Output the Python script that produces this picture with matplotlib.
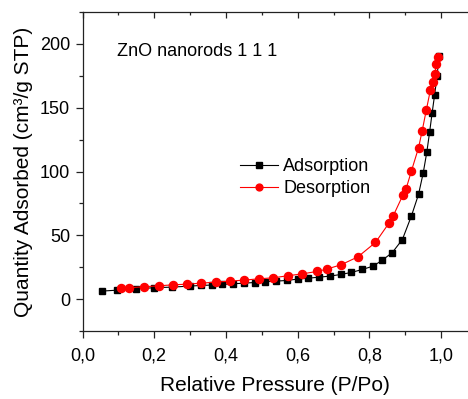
import matplotlib
matplotlib.use("Agg")
import matplotlib.pyplot as plt
from matplotlib.ticker import MultipleLocator

plt.rcParams['font.family'] = ['Liberation Sans', 'DejaVu Sans']

# adsorption branch (P/Po, cm3/g STP)
ads_p = [0.055, 0.097, 0.148, 0.200, 0.250, 0.300, 0.330, 0.360, 0.390, 0.420,
         0.450, 0.480, 0.510, 0.540, 0.570, 0.600, 0.630, 0.660, 0.690, 0.720,
         0.750, 0.780, 0.810, 0.836, 0.864, 0.892, 0.917, 0.937, 0.950, 0.960,
         0.968, 0.975, 0.982, 0.989, 0.994]
ads_q = [6.3, 7.0, 8.1, 8.9, 9.4, 10.2, 10.7, 11.0, 11.5, 12.0,
         12.5, 13.0, 13.6, 14.1, 14.6, 15.7, 16.4, 17.2, 18.0, 19.3,
         20.9, 23.2, 25.8, 30.5, 36.5, 46.7, 65.0, 82.0, 98.7, 114.9,
         131.0, 145.9, 160.3, 175.2, 190.3]

# desorption branch
des_p = [0.107, 0.130, 0.172, 0.213, 0.252, 0.292, 0.330, 0.372, 0.411, 0.451,
         0.492, 0.532, 0.573, 0.613, 0.655, 0.681, 0.721, 0.768, 0.817, 0.854,
         0.866, 0.893, 0.902, 0.917, 0.937, 0.947, 0.959, 0.970, 0.977, 0.982,
         0.987, 0.991]
des_q = [8.4, 8.9, 9.7, 10.4, 11.2, 11.7, 12.5, 13.3, 14.1, 14.9,
         15.9, 16.7, 18.3, 19.8, 21.7, 23.5, 26.9, 33.1, 44.4, 59.3,
         65.0, 81.2, 86.1, 100.2, 118.5, 131.6, 148.5, 163.7, 170.2, 176.7,
         184.0, 190.0]

xticks = [0.0, 0.2, 0.4, 0.6, 0.8, 1.0]
xlabels = ['0,0', '0,2', '0,4', '0,6', '0,8', '1,0']
yticks = [0, 50, 100, 150, 200]

fig = plt.figure(figsize=(4.68, 3.99), dpi=100)
ax = fig.add_axes([82.5/468, 68/399, 1 - 82.5/468, 319/399])

ax.plot(ads_p, ads_q, color='black', marker='s', ms=5, lw=0.8, label='Adsorption')
ax.plot(des_p, des_q, color='red', marker='o', ms=5.8, lw=0.8, label='Desorption')

ax.set_xlim(0, 1.075)
ax.set_ylim(-25, 225)
ax.set_xticks(xticks)
ax.set_xticklabels(xlabels)
ax.set_yticks(yticks)
ax.xaxis.set_minor_locator(MultipleLocator(0.1))
ax.yaxis.set_minor_locator(MultipleLocator(25))

ax.spines['right'].set_visible(False)
for s in ['left', 'bottom', 'top']:
    ax.spines[s].set_linewidth(0.9)
    ax.spines[s].set_color('#222222')

ax.tick_params(which='major', direction='out', length=5, width=0.9,
               labelsize=13, pad=4, color='#222222')
ax.tick_params(axis='x', which='major', pad=7)
ax.tick_params(which='minor', direction='out', length=3, width=0.9, color='#222222')

top = ax.secondary_xaxis('top')
top.set_xticks(xticks)
top.xaxis.set_minor_locator(MultipleLocator(0.1))
top.tick_params(which='major', direction='in', length=4, width=0.9, labeltop=False, color='#222222')
top.tick_params(which='minor', direction='in', length=2.5, width=0.9, color='#222222')
top.spines['top'].set_visible(False)

ax.set_xlabel('Relative Pressure (P/Po)', fontsize=15, labelpad=8)
ax.set_ylabel('Quantity Adsorbed (cm³/g STP)', fontsize=15, labelpad=5)

ax.text(117/468, (399-52)/399, 'ZnO nanorods 1 1 1', transform=fig.transFigure,
        fontsize=13, va='center', ha='left')

ax.legend(loc='upper left', bbox_to_anchor=(240/468, (399-158)/399),
          bbox_transform=fig.transFigure, frameon=False, fontsize=13,
          handlelength=2.1, handletextpad=0.3, labelspacing=0.3,
          borderpad=0, borderaxespad=0, markerscale=0.85)

fig.savefig('out.png', dpi=100)
